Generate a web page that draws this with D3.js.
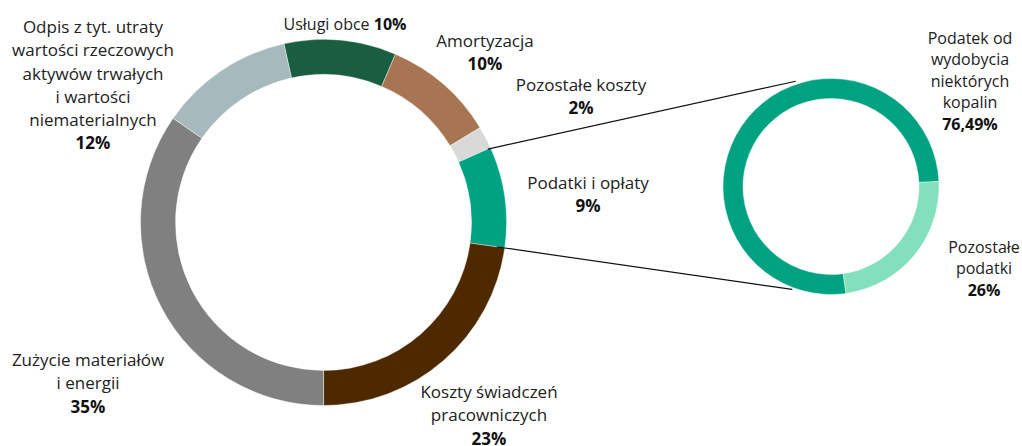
<!DOCTYPE html>
<html>
<head>
<meta charset="utf-8">
<script src="https://cdn.jsdelivr.net/npm/d3@7"></script>
<style>
  html, body { margin: 0; padding: 0; background: #fff; }
  svg { display: block; font-family: "Open Sans", "Noto Sans", sans-serif; }
  .lbl { fill: #222; }
  .pct { font-weight: bold; fill: #111; }
</style>
</head>
<body>
<svg id="chart" width="1022" height="446"></svg>
<script>
// Main ring: cost structure, clockwise from the top
var costNames = [
  ["Usługi obce"],
  ["Amortyzacja"],
  ["Pozostałe koszty"],
  ["Podatki i opłaty"],
  ["Koszty świadczeń", "pracowniczych"],
  ["Zużycie materiałów", "i energii"],
  ["Odpis z tyt. utraty", "wartości rzeczowych", "aktywów trwałych", "i wartości", "niematerialnych"]
];
var costValues = [10, 10, 2, 9, 23, 35, 12];
var costLabels = ["10%", "10%", "2%", "9%", "23%", "35%", "12%"];
var costColors = ["#1a5e41", "#a87553", "#d9d9d9", "#00a282", "#4e2900", "#808080", "#a6b9bc"];

// Side ring: breakdown of "Podatki i opłaty"
var taxNames = [["Podatek od", "wydobycia", "niektórych", "kopalin"], ["Pozostałe", "podatki"]];
var taxValues = [76.49, 23.51];
var taxLabels = ["76,49%", "26%"];
var taxColors = ["#00a282", "#82e1bc"];

var svg = d3.select("#chart");
var deg = Math.PI / 180;

var main = { cx: 323.5, cy: 222.5, r0: 148, r1: 183, start: -12.5 };
var side = { cx: 831, cy: 186.5, r0: 88, r1: 108, start: 172 };

// label anchor (centre x, centre y of first line) per slice
var costLabelPos = [[345, 24], [485, 41], [581, 85], [588, 183], [489, 392], [88, 360], [93, 27]];
var taxLabelPos = [[970, 38], [984, 247]];

function ring(cfg, values, colors) {
  var pie = d3.pie().sort(null)
    .startAngle(cfg.start * deg)
    .endAngle(cfg.start * deg + 2 * Math.PI);
  var arc = d3.arc().innerRadius(cfg.r0).outerRadius(cfg.r1);
  var arcs = pie(values);
  svg.append("g")
    .attr("transform", "translate(" + cfg.cx + "," + cfg.cy + ")")
    .selectAll("path")
    .data(arcs)
    .join("path")
    .attr("d", arc)
    .attr("fill", function (d, i) { return colors[i]; })
    .attr("stroke", "#fff")
    .attr("stroke-width", 0.4);
  return arcs;
}

function polar(cfg, angle, r) {
  return [cfg.cx + r * Math.sin(angle), cfg.cy - r * Math.cos(angle)];
}

var mainArcs = ring(main, costValues, costColors);
ring(side, taxValues, taxColors);

// connector lines from the "Podatki i opłaty" slice to the side ring
var podatki = mainArcs[3];
var connectors = [
  [polar(main, podatki.startAngle, 180), polar(side, -18.5 * deg, 111)],
  [polar(main, podatki.endAngle, 175), polar(side, 200.6 * deg, 110)]
];
svg.append("g").selectAll("line")
  .data(connectors)
  .join("line")
  .attr("x1", function (d) { return d[0][0]; })
  .attr("y1", function (d) { return d[0][1]; })
  .attr("x2", function (d) { return d[1][0]; })
  .attr("y2", function (d) { return d[1][1]; })
  .attr("stroke", "#111")
  .attr("stroke-width", 1.2);

function labels(names, pcts, pos, inline, size, step) {
  var g = svg.append("g").style("font-size", size + "px");
  names.forEach(function (lines, i) {
    var t = g.append("text")
      .attr("class", "lbl")
      .attr("text-anchor", "middle")
      .attr("x", pos[i][0])
      .attr("y", pos[i][1]);
    if (inline[i]) {
      t.style("font-size", "16px").attr("dy", "0.35em");
      t.append("tspan").text(lines[0] + " ");
      t.append("tspan").attr("class", "pct").text(pcts[i]);
      return;
    }
    lines.forEach(function (line, j) {
      t.append("tspan")
        .attr("x", pos[i][0])
        .attr("dy", j === 0 ? "0.35em" : step)
        .text(line);
    });
    t.append("tspan")
      .attr("class", "pct")
      .attr("x", pos[i][0])
      .attr("dy", step)
      .text(pcts[i]);
  });
}

labels(costNames, costLabels, costLabelPos, [true, false, false, false, false, false, false], 17, 23.3);
labels(taxNames, taxLabels, taxLabelPos, [false, false], 16, 21.6);
</script>
</body>
</html>
